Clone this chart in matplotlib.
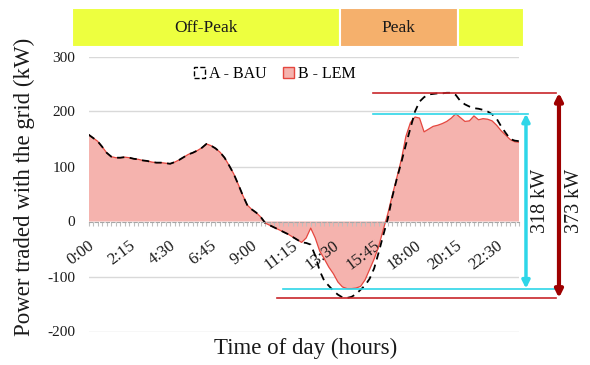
import matplotlib
matplotlib.use("Agg")
import matplotlib.pyplot as plt
from matplotlib.patches import Patch
from matplotlib.transforms import ScaledTranslation
import numpy as np

plt.rcParams["font.family"] = ["Liberation Serif", "DejaVu Serif"]
plt.rcParams["axes.unicode_minus"] = False

# 15-minute slots over one day
slots = [f"{h}:{m:02d}" for h in range(24) for m in (0, 15, 30, 45)]
tick_labels = ["0:00", "2:15", "4:30", "6:45", "9:00", "11:15",
               "13:30", "15:45", "18:00", "20:15", "22:30"]
y_ticks = [-200, -100, 0, 100, 200, 300]

# B - LEM (kW)
lem = [158, 152, 146, 136, 125, 118, 116, 116, 117, 116, 114, 113,
       111, 110, 108, 107, 107, 106, 105, 108, 112, 117, 122, 125,
       129, 134, 141, 138, 133, 126, 116, 102, 87, 68, 48, 30,
       22, 16, 8, -3, -7, -11, -15, -19, -23, -28, -33, -38,
       -30, -12, -30, -54, -68, -83, -95, -110, -119, -122, -122, -121,
       -118, -106, -87, -68, -45, -15, 14, 48, 80, 113, 155, 180,
       190, 188, 163, 168, 173, 175, 178, 182, 188, 196, 189, 182,
       183, 192, 185, 187, 186, 183, 175, 165, 157, 149, 145, 144]

# A - BAU (kW)
bau = [158, 152, 146, 136, 125, 118, 116, 116, 117, 116, 114, 113,
       111, 110, 108, 107, 107, 106, 105, 108, 112, 117, 122, 125,
       129, 134, 141, 138, 133, 126, 116, 102, 87, 68, 48, 30,
       22, 16, 8, -3, -7, -11, -15, -19, -23, -28, -33, -38,
       -39, -42, -62, -90, -108, -117, -126, -133, -138, -139, -137, -132,
       -124, -116, -104, -85, -56, -25, 5, 45, 78, 108, 140, 170,
       200, 218, 226, 231, 232, 233, 233, 234, 234, 230, 219, 213,
       209, 206, 205, 203, 200, 195, 187, 173, 161, 150, 147, 146]

band_labels = ["Off-Peak", "Peak", ""]
band_colors = ["#EDFF3F", "#F5B06C", "#EDFF3F"]
band_widths = [267, 118, 66]

fill_c = "#F5B3AE"
edge_c = "#E5473F"
cyan = "#2ED6E8"
red = "#C8262B"
dark_red = "#9E0000"
txt = "#1a1a1a"

fig = plt.figure(figsize=(5.9, 3.65), dpi=100)
W, H = 590, 365
ax = fig.add_axes([88.5 / W, 1 - 331.5 / H, 430.8 / W, 275 / H])

x = np.arange(len(lem))
for yt in y_ticks:
    if yt != 0:
        ax.axhline(yt, color="#D9D9D9", lw=1, zorder=1)
ax.fill_between(x, lem, 0, facecolor=fill_c, edgecolor="none", zorder=1.5)
ax.plot(x, lem, color=edge_c, lw=0.9, zorder=1.6)
ax.plot(x, bau, color="black", lw=1.3, ls=(0, (4, 3)), zorder=1.7)

ax.set_xlim(0, len(lem) - 1)
ax.set_ylim(-200, 300)
ax.set_yticks(y_ticks)
for s in ["top", "right", "left"]:
    ax.spines[s].set_visible(False)
ax.spines["bottom"].set_position(("data", 0))
ax.spines["bottom"].set_linestyle((0, (3, 2)))
ax.spines["bottom"].set_color("#A6A6A6")

ax.set_xticks(x[::9])
ax.set_xticklabels(tick_labels)
ax.set_xticks(x, minor=True)
ax.tick_params(axis="x", which="both", length=3, color="#BFBFBF", width=0.8)
ax.tick_params(axis="x", which="major", labelsize=12, pad=13, labelcolor=txt)
ax.tick_params(axis="y", length=0, pad=9.5, labelsize=11, labelcolor=txt)
for lab in ax.get_xticklabels():
    lab.set_rotation(37)
    lab.set_ha("right")
    lab.set_va("center")
    lab.set_rotation_mode("anchor")
    lab.set_transform(lab.get_transform() + ScaledTranslation(4 / 100, 0, fig.dpi_scale_trans))

# legend
handles = [Patch(facecolor="none", edgecolor="black", linestyle="--", lw=1, label="A - BAU"),
           Patch(facecolor=fill_c, edgecolor=edge_c, lw=1, label="B - LEM")]
ax.legend(handles=handles, loc="center", bbox_to_anchor=(275 / W, 1 - 74 / H),
          bbox_transform=fig.transFigure, ncol=2, frameon=False, fontsize=11.5,
          handlelength=0.7, handleheight=0.7, handletextpad=0.25, columnspacing=1.0)

# tariff band on top
axb = fig.add_axes([72 / W, 1 - 47 / H, 452 / W, 39 / H])
lefts = np.cumsum([0] + band_widths[:-1])
axb.barh(0, band_widths, left=lefts, height=1, color=band_colors,
         edgecolor="white", lw=1.5)
for l, w, t in zip(lefts, band_widths, band_labels):
    axb.text(l + w / 2, 0, t, ha="center", va="center", fontsize=12.5, color=txt)
axb.set_xlim(0, sum(band_widths))
axb.set_ylim(-0.5, 0.5)
axb.axis("off")

# peak-to-peak markers
lem_max, lem_min = max(lem), min(lem)
bau_max, bau_min = max(bau), min(bau)
px = lambda p: (p - 88.5) / 4.535  # pixel column -> slot index

ax.plot([px(373), px(556)], [bau_max, bau_max], color=red, lw=1.2, clip_on=False)
ax.plot([px(277), px(556)], [bau_min, bau_min], color=red, lw=1.2, clip_on=False)
ax.plot([px(373), px(528)], [lem_max, lem_max], color=cyan, lw=1.2, clip_on=False)
ax.plot([px(283), px(556)], [lem_min, lem_min], color=cyan, lw=1.2, clip_on=False)

ax.annotate("", xy=(px(526), lem_max), xytext=(px(526), lem_min),
            arrowprops=dict(arrowstyle="<|-|>", color=cyan, lw=2.5,
                            mutation_scale=11, shrinkA=0, shrinkB=0),
            annotation_clip=False)
ax.annotate("", xy=(px(559), bau_max), xytext=(px(559), bau_min),
            arrowprops=dict(arrowstyle="<|-|>", color=dark_red, lw=3,
                            mutation_scale=11, shrinkA=0, shrinkB=0),
            annotation_clip=False)
mid = (lem_max + lem_min) / 2
ax.text(px(541), mid, f"{lem_max - lem_min} kW",
        rotation=90, ha="center", va="center", fontsize=14.5, color=txt, clip_on=False)
ax.text(px(575), mid, f"{bau_max - bau_min} kW",
        rotation=90, ha="center", va="center", fontsize=14.5, color=txt, clip_on=False)

fig.text(24 / W, 1 - 186.5 / H, "Power traded with the grid (kW)", rotation=90,
         ha="center", va="center", fontsize=16.5, color=txt)
fig.text(305.5 / W, 1 - 348 / H, "Time of day (hours)",
         ha="center", va="center", fontsize=16.5, color=txt)

fig.savefig("out.png", dpi=100)
